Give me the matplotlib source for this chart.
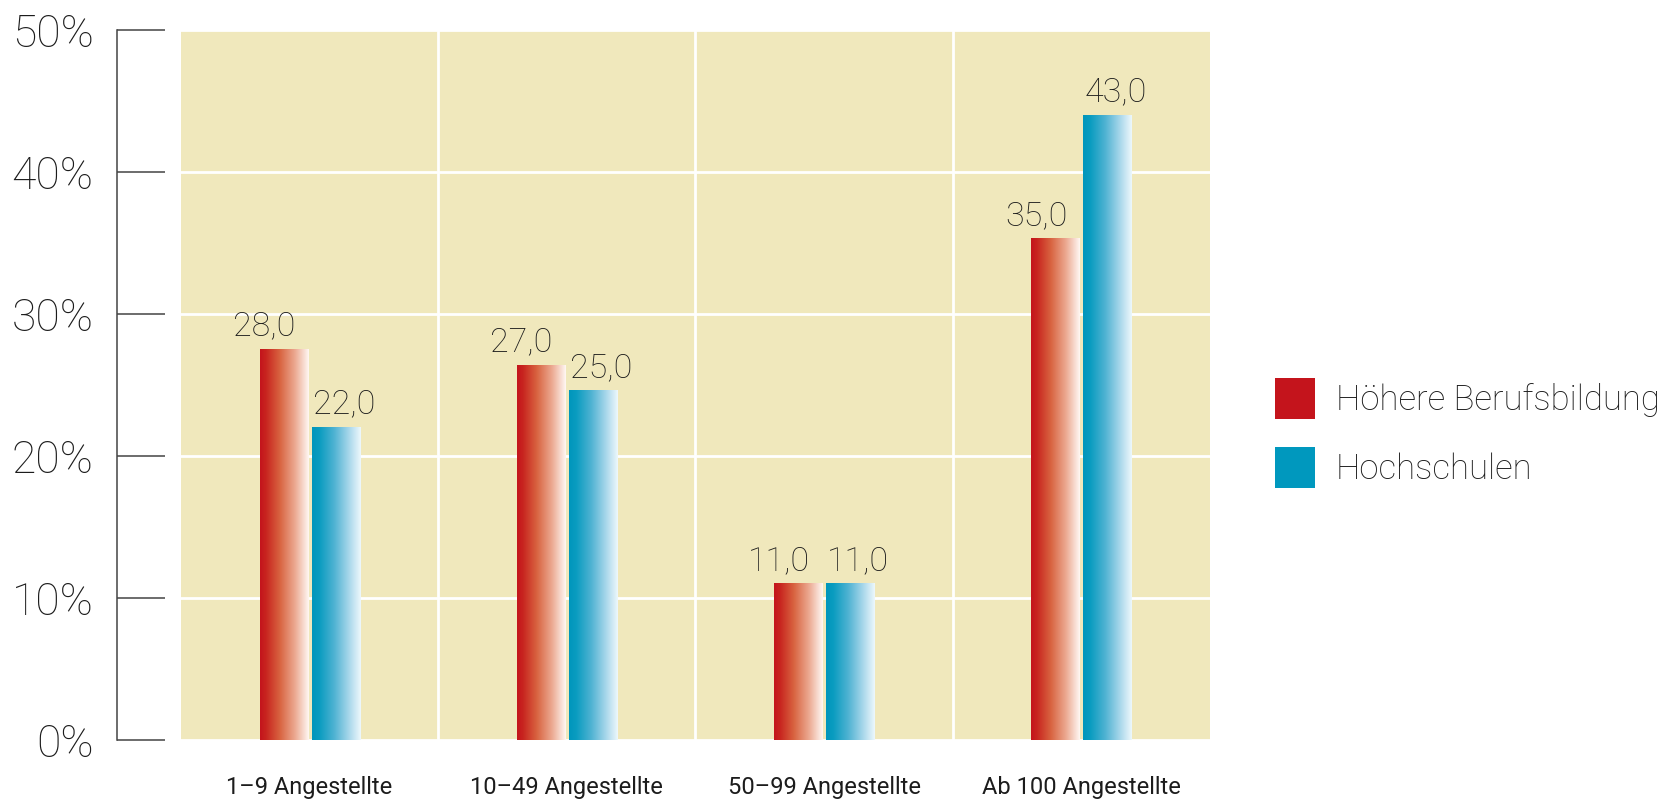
import numpy as np
import matplotlib
matplotlib.use("Agg")
import matplotlib.pyplot as plt
from matplotlib.colors import LinearSegmentedColormap
from matplotlib.patches import Patch

# ---- data ----
categories = ["1–9 Angestellte", "10–49 Angestellte", "50–99 Angestellte", "Ab 100 Angestellte"]
series_names = ["Höhere Berufsbildung", "Hochschulen"]
hoehere_bb = [27.5, 26.4, 11.0, 35.3]      # bar heights as drawn
hochschulen = [22.0, 24.6, 11.0, 44.0]
hoehere_labels = ["28,0", "27,0", "11,0", "35,0"]
hochschulen_labels = ["22,0", "25,0", "11,0", "43,0"]
y_ticks = [0, 10, 20, 30, 40, 50]
y_ticklabels = ["0%", "10%", "20%", "30%", "40%", "50%"]

# ---- style ----
FONT = "Roboto"
TXT = "#1c1c1c"
BEIGE = "#F0E8BC"
RED = "#C4141C"
BLUE = "#0098BE"
red_cmap = LinearSegmentedColormap.from_list(
    "r", [(0, "#C4141C"), (0.12, "#C8241F"), (0.4, "#D8623F"), (0.72, "#ECAA92"), (1, "#FFF8F4")])
blue_cmap = LinearSegmentedColormap.from_list(
    "b", [(0, "#0096BC"), (0.15, "#0A9CC0"), (0.45, "#4EB2D2"), (0.75, "#A6D6EA"), (1, "#EEF8FC")])

W, H = 1674, 800
fig = plt.figure(figsize=(W / 100, H / 100), dpi=100)
ax = fig.add_axes([181 / W, (H - 740) / H, (1210 - 181) / W, (740 - 30) / H])
ax.set_facecolor(BEIGE)

for s in ("top", "right", "bottom"):
    ax.spines[s].set_visible(False)
ax.spines["left"].set_position(("outward", 46))
ax.spines["left"].set_color("#444444")
ax.spines["left"].set_linewidth(1.1)

x = np.arange(len(categories))
bw = 0.187
off = 0.101
bars_r = ax.bar(x - off, hoehere_bb, bw, color=RED, zorder=1)
bars_b = ax.bar(x + off, hochschulen, bw, color=BLUE, zorder=1)

grad = np.linspace(0, 1, 256).reshape(1, -1)
for bars, cmap in ((bars_r, red_cmap), (bars_b, blue_cmap)):
    for rect in bars:
        x0, y0 = rect.get_xy()
        w, h = rect.get_width(), rect.get_height()
        ax.imshow(grad, extent=[x0, x0 + w, y0, y0 + h], aspect="auto",
                  cmap=cmap, zorder=3, interpolation="bilinear")

ax.set_xlim(-0.5, len(categories) - 0.5)
ax.set_ylim(0, 50)

# value labels
for bars, labels, dx in ((bars_r, hoehere_labels, -14), (bars_b, hochschulen_labels, 6)):
    for rect, lab in zip(bars, labels):
        ax.annotate(lab, (rect.get_x() + rect.get_width() / 2, rect.get_height()),
                    xytext=(dx, 10), textcoords="offset points", ha="center", va="baseline",
                    fontsize=24.5, color=TXT, family=FONT, fontweight="light", zorder=5)

# ticks & grid
ax.set_xticks(x)
ax.set_xticklabels(categories, fontsize=17, color=TXT, family=FONT)
ax.set_xticks(np.arange(0.5, len(categories) - 0.5, 1), minor=True)
ax.tick_params(axis="x", which="both", length=0, pad=26)
ax.grid(axis="x", which="minor", color="white", lw=2, zorder=0.5)
ax.tick_params(axis="y", direction="in", length=34.5, width=1.1, color="#444444", pad=17)
ax.set_yticks(y_ticks)
ax.set_yticklabels(y_ticklabels, fontsize=32, color=TXT, family=FONT, fontweight="light")
ax.grid(axis="y", which="major", color="white", lw=2, zorder=0.5)
ax.set_axisbelow(True)

# legend
handles = [Patch(facecolor=RED, edgecolor="none"), Patch(facecolor=BLUE, edgecolor="none")]
leg = fig.legend(handles, series_names, loc="upper left",
                 bbox_to_anchor=(1275 / W, 1 - 378 / H), frameon=False,
                 prop={"family": FONT, "size": 25, "weight": "light"},
                 handlelength=1.15, handleheight=1.44, handletextpad=0.6,
                 labelspacing=0.8, borderpad=0, borderaxespad=0)
for t in leg.get_texts():
    t.set_color(TXT)

fig.savefig("out.png", dpi=100)
